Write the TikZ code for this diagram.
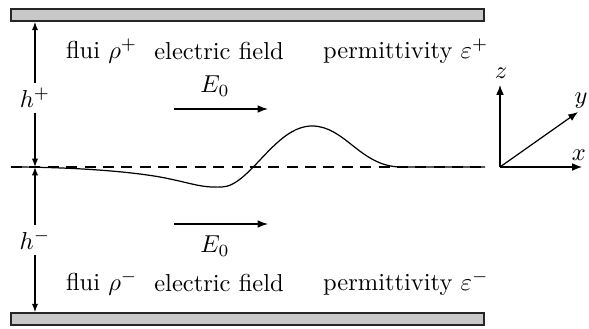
\documentclass[tikz,border=0pt]{standalone}
\usepackage{amsmath}
\usepackage{amssymb}
\usetikzlibrary{arrows.meta, positioning}

\begin{document}
\begin{tikzpicture}[
  x=0.01435cm,y=-0.01435cm,
  line width=0.5pt,
  plate/.style={draw=black!85, line width=0.7pt, fill=gray!43, minimum width=6.79cm, minimum height=1.72mm, inner sep=0pt},
  dim/.style={{Latex[length=1.2mm,width=0.9mm]}-{Latex[length=1.2mm,width=0.9mm]}},
  field/.style={-{Latex[length=1.5mm,width=1.1mm]}},
  axis/.style={-{Latex[length=1.4mm,width=1.1mm]}},
  lbl/.style={inner sep=1pt}
]
\useasboundingbox (0,0) rectangle (589,329);

% plates
\node[plate] (ptop) at (247.5,15) {};
\node[plate] (pbot) at (247.5,319) {};

% interface
\coordinate (ml) at (35,167);
\draw[dash pattern=on 4.5pt off 3pt] (11,167) -- (485,167);
\draw (11,167) .. controls (60,167) and (120,170) .. (160,177)
  .. controls (192,183) and (200,188) .. (222,187)
  .. controls (250,186) and (275,126) .. (312,126)
  .. controls (345,126) and (360,166) .. (400,167) -- (485,167);

% heights
\draw[dim] (ptop.south -| ml) -- (ml);
\draw[dim] (ml) -- (pbot.north -| ml);
\node[fill=white, inner sep=2pt] (hp) at (35,98) {$h^+$};
\node[fill=white, inner sep=2pt] (hm) at (35,240) {$h^-$};

% upper fluid
\node[lbl, anchor=west] (fup) at (63,51) {flui $\rho^+$};
\node[lbl] (eup) at (219,51) {electric field};
\node[lbl, anchor=west] (pup) at (320,51) {permittivity $\varepsilon^+$};
\coordinate (ea1) at (174,109);
\coordinate (eb1) at (268,109);
\draw[field] (ea1) -- (eb1);
\node[lbl] (E1) at (215,86) {$E_0$};

% lower fluid
\node[lbl] (E2) at (215,246) {$E_0$};
\coordinate (ea2) at (174,224);
\coordinate (eb2) at (268,224);
\draw[field] (ea2) -- (eb2);
\node[lbl, anchor=west] (fdn) at (63,283) {flui $\rho^-$};
\node[lbl] (edn) at (219,283) {electric field};
\node[lbl, anchor=west] (pdn) at (320,283) {permittivity $\varepsilon^-$};

% axes
\coordinate (o) at (500,167);
\coordinate (zt) at (500,85);
\coordinate (xt) at (582,167);
\coordinate (yt) at (578,112);
\draw[axis] (o) -- (zt);
\draw[axis] (o) -- (xt);
\draw[axis] (o) -- (yt);
\node[lbl] (zl) at (501,73) {$z$};
\node[lbl] (yl) at (581,101) {$y$};
\node[lbl, anchor=east] (xl) at (589,155) {$x$};

\end{tikzpicture}
\end{document}
